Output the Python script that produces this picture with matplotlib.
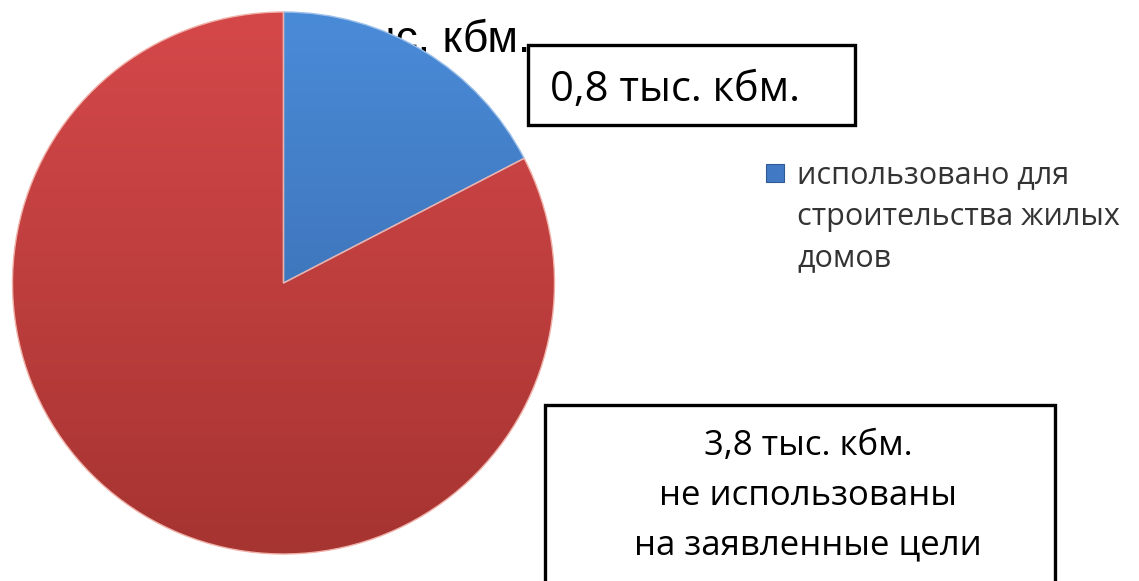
import numpy as np
import matplotlib.pyplot as plt
from matplotlib.colors import LinearSegmentedColormap
from matplotlib.patches import Rectangle

# data
values = [0.8, 3.8]
labels = ["использовано для\nстроительства жилых\nдомов", "не использованы\nна заявленные цели"]
colors = ["#4279c4", "#c0403d"]
shades = [("#4a8bd8", "#3563a3"), ("#d5484a", "#a63431")]
total_text = "4,6 тыс. кбм."
box_texts = ["0,8 тыс. кбм.", "3,8 тыс. кбм.\nне использованы\nна заявленные цели"]

W, H = 1139, 581


def py(y):
    # pixel row (top-down) to data y (bottom-up)
    return H - y


fig = plt.figure(figsize=(W / 100, H / 100), dpi=100)
ax = fig.add_axes([0, 0, 1, 1])

# title partly hidden behind the pie
ax.text(530, py(40), total_text, ha="right", va="center", fontsize=32,
        family="Liberation Sans", color="black", zorder=1)

cx, cy, r = 283.5, py(283), 271
wedges, _ = ax.pie(values, colors=colors, startangle=90, counterclock=False,
                   center=(cx, cy), radius=r, frame=True,
                   wedgeprops=dict(edgecolor="#f0b0a8", linewidth=1.0))

# vertical gradient on each slice
grad = np.linspace(0, 1, 256).reshape(-1, 1)
for w, (top, bottom) in zip(wedges, shades):
    cmap = LinearSegmentedColormap.from_list("g", [bottom, top])
    im = ax.imshow(grad, cmap=cmap, origin="lower", aspect="auto",
                   extent=(cx - r, cx + r, cy - r, cy + r), zorder=2.1)
    im.set_clip_path(w)
wedges[0].set_edgecolor("#9cc0ea")
for w in wedges:
    w.set_facecolor("none")
    w.set_zorder(2.2)

ax.set_xlim(0, W)
ax.set_ylim(0, H)
ax.set_aspect("auto")
ax.axis("off")

# callout boxes
ax.add_patch(Rectangle((528, py(125)), 327, 80, facecolor="white",
                       edgecolor="black", linewidth=2.4, zorder=3))
ax.text(550, py(90), box_texts[0], ha="left", va="center", fontsize=30,
        family="Open Sans", zorder=4)

ax.add_patch(Rectangle((545, py(600)), 510, 195, facecolor="white",
                       edgecolor="black", linewidth=2.4, zorder=3))
ax.text(808, py(496), box_texts[1], ha="center", va="center", fontsize=25,
        family="Open Sans", linespacing=1.6, zorder=4)

# legend entry for the blue slice
ax.add_patch(Rectangle((766, py(182)), 18, 18, facecolor=colors[0],
                       edgecolor="#2f5a94", linewidth=0.8, zorder=3))
ax.text(797, py(160), labels[0], ha="left", va="top", fontsize=22,
        family="Open Sans", color="#333333", linespacing=1.5, zorder=4)

fig.savefig("out.png", dpi=100)
